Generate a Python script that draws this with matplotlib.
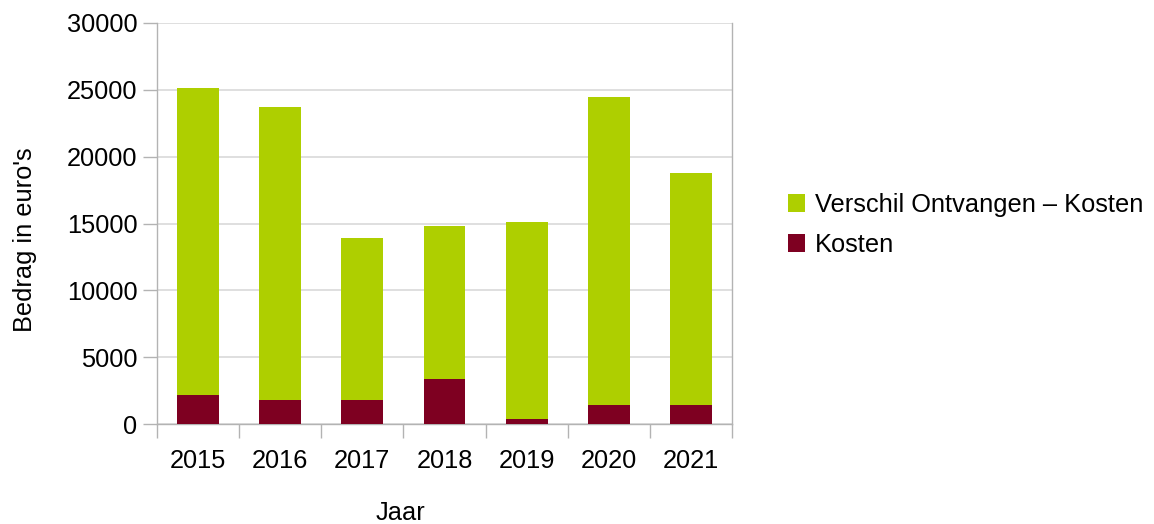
#!/usr/bin/env python3
"""Stacked bars: Kosten + Verschil Ontvangen - Kosten per jaar."""
import numpy as np
import matplotlib
matplotlib.use("Agg")
import matplotlib.pyplot as plt

jaren = ["2015", "2016", "2017", "2018", "2019", "2020", "2021"]
kosten = [2200, 1800, 1800, 3400, 400, 1400, 1400]
totaal = [25100, 23700, 13900, 14850, 15100, 24500, 18800]
verschil = [t - k for t, k in zip(totaal, kosten)]

plt.rcParams["font.family"] = ["Liberation Sans", "DejaVu Sans"]
fs = 18.3
grey = "#b3b3b3"
W, H = 1154, 524

fig = plt.figure(figsize=(W / 100, H / 100), dpi=100)
ax = fig.add_axes([157 / W, 1 - 424 / H, 575 / W, 401 / H])

x = np.arange(len(jaren))
ax.bar(x, kosten, width=0.51, color="#7e0021", label="Kosten", zorder=3)
ax.bar(x, verschil, width=0.51, bottom=kosten, color="#aecf00",
       label="Verschil Ontvangen – Kosten", zorder=3)

ax.set_xlim(-0.5, len(jaren) - 0.5)
ax.set_ylim(0, 30000)
ax.set_yticks(np.arange(0, 30001, 5000))
ax.yaxis.grid(True, color="#d9d9d9", linewidth=1.2, zorder=0)

ax.set_xticks(x)
ax.set_xticklabels(jaren)
ax.set_xticks(np.arange(-0.5, len(jaren)), minor=True)
ax.tick_params(axis="x", which="major", length=0, pad=18, labelsize=fs)
ax.tick_params(axis="x", which="minor", length=10, color=grey, width=1)
ax.tick_params(axis="y", length=10, color=grey, width=1, pad=4, labelsize=fs)

for s in ax.spines.values():
    s.set_color(grey)
    s.set_linewidth(1)
ax.spines["top"].set_visible(False)

# axis titles sit off-centre in the original, so place them on the figure
fig.text(400 / W, 1 - 520 / H, "Jaar", fontsize=fs, ha="center", va="baseline")
fig.text(25 / W, 1 - 240 / H, "Bedrag in euro's", fontsize=fs,
         rotation=90, ha="center", va="center")

handles, labels = ax.get_legend_handles_labels()
fig.legend(handles[::-1], labels[::-1], loc="center left",
           bbox_to_anchor=(765 / W, 1 - 225 / H), frameon=False,
           fontsize=fs, handlelength=0.68, handleheight=0.68,
           handletextpad=0.4, labelspacing=0.62)

fig.savefig("out.png", dpi=100)
